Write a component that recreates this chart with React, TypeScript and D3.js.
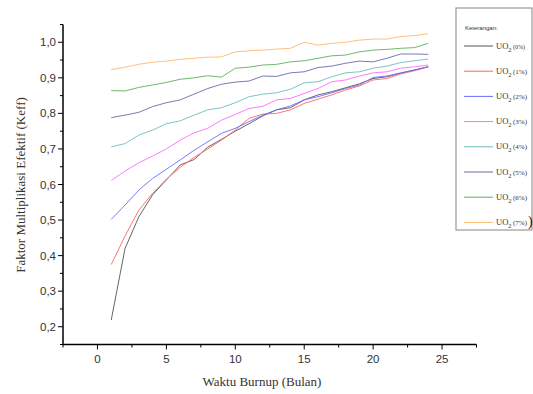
import React from "react";
import * as d3 from "d3";

const months = d3.range(1, 25);
const seriesNames = ["(0%)", "(1%)", "(2%)", "(3%)", "(4%)", "(5%)", "(6%)", "(7%)"];
const seriesColors = ["#555555", "#ff6666", "#6b6bff", "#ff6bff", "#6fbfbf", "#6a6ab0", "#5cb35c", "#ffb870"];

const uo0 = [0.219, 0.42, 0.509, 0.571, 0.613, 0.655, 0.67, 0.705, 0.727, 0.75, 0.771, 0.793, 0.81, 0.816, 0.838, 0.852, 0.861, 0.872, 0.883, 0.898, 0.903, 0.913, 0.922, 0.931];
const uo1 = [0.375, 0.455, 0.528, 0.575, 0.615, 0.648, 0.676, 0.7, 0.725, 0.753, 0.786, 0.798, 0.8, 0.81, 0.828, 0.84, 0.852, 0.866, 0.877, 0.894, 0.898, 0.911, 0.92, 0.931];
const uo2 = [0.502, 0.542, 0.584, 0.617, 0.643, 0.669, 0.696, 0.72, 0.744, 0.758, 0.777, 0.795, 0.81, 0.821, 0.838, 0.847, 0.858, 0.87, 0.88, 0.901, 0.905, 0.914, 0.922, 0.931];
const uo3 = [0.611, 0.638, 0.661, 0.68, 0.7, 0.725, 0.745, 0.758, 0.781, 0.797, 0.814, 0.82, 0.838, 0.842, 0.856, 0.87, 0.889, 0.894, 0.905, 0.914, 0.917, 0.927, 0.931, 0.936];
const uo4 = [0.706, 0.715, 0.739, 0.753, 0.771, 0.779, 0.795, 0.81, 0.816, 0.83, 0.847, 0.854, 0.858, 0.868, 0.886, 0.889, 0.903, 0.914, 0.917, 0.927, 0.933, 0.943, 0.948, 0.953];
const uo5 = [0.788, 0.795, 0.803, 0.819, 0.83, 0.838, 0.854, 0.87, 0.882, 0.888, 0.891, 0.905, 0.904, 0.914, 0.917, 0.929, 0.933, 0.941, 0.947, 0.945, 0.955, 0.967, 0.967, 0.966];
const uo6 = [0.864, 0.863, 0.873, 0.88, 0.887, 0.896, 0.9, 0.906, 0.902, 0.927, 0.93, 0.936, 0.938, 0.945, 0.948, 0.955, 0.962, 0.964, 0.973, 0.978, 0.98, 0.983, 0.985, 0.997];
const uo7 = [0.923, 0.93, 0.938, 0.944, 0.947, 0.952, 0.955, 0.958, 0.959, 0.973, 0.976, 0.978, 0.981, 0.983, 1.0, 0.992, 0.997, 1.0, 1.006, 1.009, 1.009, 1.016, 1.019, 1.024];

const allSeries = [uo0, uo1, uo2, uo3, uo4, uo5, uo6, uo7];
const xTicks = [0, 5, 10, 15, 20, 25];
const yTicks = [0.2, 0.3, 0.4, 0.5, 0.6, 0.7, 0.8, 0.9, 1.0];

export default function App() {
  const W = 533, H = 394;
  const x = d3.scaleLinear().domain([-2.5, 27.5]).range([63, 476.5]);
  const y = d3.scaleLinear().domain([0.15, 1.05]).range([344.5, 24.5]);
  const line = d3.line<number>().x((_, i) => x(months[i])).y((v) => y(v));
  const xMinor = d3.range(-2.5, 27.6, 2.5).filter((v) => Math.abs(v % 5) > 0.01);
  const yMinor = d3.range(0.15, 1.051, 0.1);
  const fmt = (v: number) => d3.format(".1f")(v).replace(".", ",");
  const sans = "Liberation Sans, Arial, sans-serif";
  const serif = "Liberation Serif, Times New Roman, serif";
  const legX = 456, legY = 8, legW = 76, legH = 222;
  const rowY = (i: number) => 46 + i * 25.2;

  return (
    <svg width={W} height={H} style={{ position: "absolute", left: 0, top: 0, background: "#fff" }}>
      <rect width={W} height={H} fill="#fff" />
      {allSeries.map((s, i) => (
        <path key={i} d={line(s) || ""} fill="none" stroke={seriesColors[i]} strokeWidth={1} strokeOpacity={0.9} />
      ))}
      {/* axes */}
      <line x1={x(-2.5)} x2={x(27.5)} y1={y(0.15)} y2={y(0.15)} stroke="#000" strokeWidth={1.5} />
      <line x1={x(-2.5)} x2={x(-2.5)} y1={y(0.15)} y2={y(1.05)} stroke="#000" strokeWidth={1.5} />
      {xTicks.map((t) => (
        <g key={t}>
          <line x1={x(t)} x2={x(t)} y1={y(0.15)} y2={y(0.15) + 5} stroke="#000" strokeWidth={1} />
          <text x={x(t)} y={y(0.15) + 18} textAnchor="middle" fontFamily={sans} fontSize={11.5} fill="#333">{t}</text>
        </g>
      ))}
      {xMinor.map((t) => (
        <line key={t} x1={x(t)} x2={x(t)} y1={y(0.15)} y2={y(0.15) + 3} stroke="#000" strokeWidth={1} />
      ))}
      {yTicks.map((t) => (
        <g key={t}>
          <line x1={x(-2.5) - 5} x2={x(-2.5)} y1={y(t)} y2={y(t)} stroke="#000" strokeWidth={1} />
          <text x={x(-2.5) - 7} y={y(t) + 4} textAnchor="end" fontFamily={sans} fontSize={11.5} fill="#333">{fmt(t)}</text>
        </g>
      ))}
      {yMinor.map((t) => (
        <line key={t} x1={x(-2.5) - 3} x2={x(-2.5)} y1={y(t)} y2={y(t)} stroke="#000" strokeWidth={1} />
      ))}
      <text x={262} y={386} textAnchor="middle" fontFamily={serif} fontSize={13} fill="#333">Waktu Burnup (Bulan)</text>
      <text transform={`translate(25,185) rotate(-90)`} textAnchor="middle" fontFamily={serif} fontSize={13} fill="#333">Faktor Multiplikasi Efektif (Keff)</text>
      {/* legend */}
      <rect x={legX} y={legY} width={legW} height={legH} fill="#fff" stroke="#999" strokeWidth={1.2} />
      <text x={465} y={30} fontFamily={sans} fontSize={6} fill="#333">Keterangan:</text>
      {seriesNames.map((n, i) => (
        <g key={n}>
          <line x1={464} x2={493} y1={rowY(i)} y2={rowY(i)} stroke={seriesColors[i]} strokeWidth={1} />
          <text x={496} y={rowY(i) + 2.5} fontFamily={serif} fontSize={8.5} fill="#333">
            UO<tspan dy={3} fontSize={6.5}>2</tspan><tspan dy={-3} dx={1.5} fontSize={i === 0 ? 6 : 7}>{n}</tspan>
          </text>
        </g>
      ))}
      <text x={528} y={rowY(7) + 4} fontFamily={serif} fontSize={14} fill="#111">)</text>
    </svg>
  );
}
